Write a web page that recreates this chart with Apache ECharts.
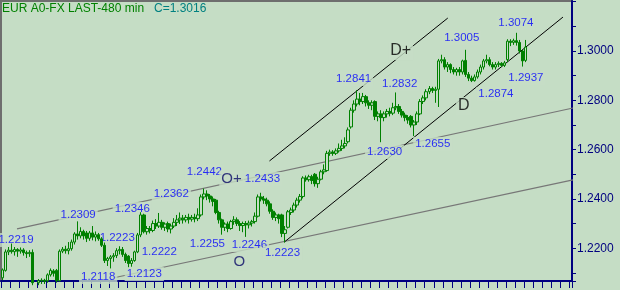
<!DOCTYPE html>
<html><head><meta charset="utf-8">
<script src="https://cdn.jsdelivr.net/npm/echarts@6/dist/echarts.min.js"></script>
<style>html,body{margin:0;padding:0;background:#c5ddc5}#c{width:620px;height:290px}</style>
</head><body><div id="c"></div>
<script>
// ---- data (EUR A0-FX, 480 min bars) ----
const opens = [1.2080,1.2110,1.2185,1.2192,1.2186,1.2195,1.2188,1.2193,1.2182,1.2178,
1.2183,1.2060,1.2060,1.2068,1.2070,1.2068,1.2092,1.2108,1.2110,1.2068,
1.2188,1.2196,1.2190,1.2198,1.2225,1.2258,1.2250,1.2268,1.2262,1.2240,
1.2262,1.2245,1.2255,1.2238,1.2212,1.2150,1.2158,1.2165,1.2170,1.2190,
1.2195,1.2175,1.2168,1.2138,1.2150,1.2185,1.2254,1.2335,1.2267,1.2280,
1.2272,1.2300,1.2290,1.2305,1.2285,1.2300,1.2278,1.2290,1.2305,1.2315,
1.2322,1.2315,1.2325,1.2318,1.2325,1.2320,1.2335,1.2408,1.2420,1.2412,
1.2400,1.2395,1.2345,1.2315,1.2285,1.2298,1.2280,1.2308,1.2315,1.2300,
1.2292,1.2300,1.2295,1.2302,1.2308,1.2330,1.2408,1.2400,1.2395,1.2380,
1.2350,1.2325,1.2335,1.2335,1.2260,1.2285,1.2345,1.2355,1.2375,1.2395,
1.2410,1.2485,1.2478,1.2490,1.2500,1.2462,1.2480,1.2510,1.2515,1.2585,
1.2590,1.2585,1.2595,1.2605,1.2615,1.2632,1.2692,1.2760,1.2785,1.2805,
1.2795,1.2815,1.2790,1.2780,1.2795,1.2735,1.2745,1.2730,1.2745,1.2755,
1.2748,1.2770,1.2775,1.2755,1.2740,1.2730,1.2735,1.2700,1.2712,1.2745,
1.2795,1.2810,1.2835,1.2848,1.2840,1.2845,1.2960,1.2965,1.2935,1.2945,
1.2925,1.2915,1.2925,1.2915,1.2962,1.2905,1.2890,1.2880,1.2895,1.2915,
1.2935,1.2960,1.2965,1.2945,1.2935,1.2945,1.2950,1.2942,1.2965,1.3040,
1.3035,1.3042,1.3035,1.3000,1.2962];
const closes = [1.2112,1.2185,1.2192,1.2186,1.2195,1.2188,1.2193,1.2182,1.2178,1.2183,
1.2060,1.2055,1.2068,1.2070,1.2065,1.2092,1.2110,1.2098,1.2068,1.2188,
1.2196,1.2190,1.2198,1.2225,1.2258,1.2250,1.2268,1.2250,1.2240,1.2262,
1.2245,1.2255,1.2238,1.2212,1.2150,1.2158,1.2165,1.2170,1.2190,1.2195,
1.2175,1.2150,1.2138,1.2150,1.2185,1.2254,1.2335,1.2267,1.2280,1.2272,
1.2300,1.2290,1.2305,1.2285,1.2298,1.2278,1.2290,1.2305,1.2315,1.2322,
1.2315,1.2325,1.2318,1.2325,1.2320,1.2335,1.2408,1.2420,1.2412,1.2400,
1.2390,1.2345,1.2315,1.2285,1.2298,1.2280,1.2308,1.2315,1.2300,1.2292,
1.2300,1.2295,1.2302,1.2308,1.2330,1.2408,1.2400,1.2395,1.2380,1.2350,
1.2325,1.2335,1.2320,1.2260,1.2275,1.2348,1.2355,1.2375,1.2395,1.2410,
1.2485,1.2478,1.2490,1.2475,1.2462,1.2480,1.2510,1.2518,1.2585,1.2590,
1.2585,1.2595,1.2605,1.2615,1.2625,1.2680,1.2760,1.2785,1.2805,1.2795,
1.2815,1.2790,1.2780,1.2790,1.2735,1.2745,1.2730,1.2745,1.2755,1.2748,
1.2770,1.2775,1.2755,1.2740,1.2730,1.2720,1.2700,1.2712,1.2745,1.2795,
1.2810,1.2835,1.2848,1.2840,1.2845,1.2960,1.2965,1.2935,1.2945,1.2925,
1.2915,1.2925,1.2915,1.2960,1.2905,1.2890,1.2880,1.2895,1.2915,1.2935,
1.2960,1.2965,1.2945,1.2935,1.2945,1.2950,1.2942,1.2952,1.3040,1.3035,
1.3042,1.3035,1.3000,1.2960,1.3016];
const lows = [1.2070,1.2105,1.2172,1.2178,1.2170,1.2165,1.2178,1.2170,1.2160,1.2165,
1.2050,1.2040,1.2050,1.2055,1.2055,1.2060,1.2085,1.2085,1.2060,1.2065,
1.2180,1.2178,1.2175,1.2190,1.2215,1.2235,1.2240,1.2235,1.2225,1.2230,
1.2232,1.2228,1.2230,1.2205,1.2140,1.2128,1.2118,1.2145,1.2160,1.2175,
1.2165,1.2140,1.2123,1.2125,1.2145,1.2180,1.2245,1.2260,1.2255,1.2260,
1.2265,1.2278,1.2282,1.2275,1.2270,1.2265,1.2260,1.2282,1.2290,1.2298,
1.2300,1.2305,1.2300,1.2308,1.2305,1.2310,1.2328,1.2398,1.2395,1.2385,
1.2370,1.2338,1.2300,1.2255,1.2270,1.2265,1.2275,1.2295,1.2290,1.2270,
1.2265,1.2246,1.2280,1.2288,1.2300,1.2325,1.2390,1.2380,1.2370,1.2340,
1.2315,1.2310,1.2300,1.2245,1.2223,1.2280,1.2335,1.2345,1.2365,1.2385,
1.2402,1.2470,1.2470,1.2460,1.2450,1.2445,1.2475,1.2500,1.2510,1.2575,
1.2575,1.2578,1.2588,1.2595,1.2605,1.2625,1.2685,1.2750,1.2775,1.2780,
1.2785,1.2775,1.2765,1.2760,1.2720,1.2715,1.2630,1.2715,1.2730,1.2735,
1.2740,1.2760,1.2745,1.2730,1.2715,1.2705,1.2690,1.2655,1.2700,1.2740,
1.2785,1.2800,1.2825,1.2830,1.2790,1.2773,1.2950,1.2925,1.2915,1.2910,
1.2905,1.2900,1.2900,1.2905,1.2895,1.2878,1.2874,1.2876,1.2888,1.2905,
1.2925,1.2950,1.2938,1.2925,1.2925,1.2935,1.2935,1.2935,1.2955,1.3020,
1.3025,1.3022,1.2990,1.2937,1.2955];
const highs = [1.2118,1.2195,1.2205,1.2219,1.2205,1.2200,1.2203,1.2200,1.2190,1.2192,
1.2195,1.2066,1.2075,1.2078,1.2076,1.2098,1.2118,1.2115,1.2116,1.2195,
1.2205,1.2210,1.2225,1.2235,1.2265,1.2309,1.2285,1.2275,1.2270,1.2270,
1.2290,1.2268,1.2262,1.2245,1.2223,1.2165,1.2172,1.2180,1.2200,1.2208,
1.2205,1.2182,1.2172,1.2160,1.2190,1.2262,1.2346,1.2340,1.2290,1.2290,
1.2312,1.2318,1.2343,1.2315,1.2305,1.2308,1.2300,1.2322,1.2335,1.2345,
1.2335,1.2335,1.2340,1.2335,1.2340,1.2362,1.2418,1.2442,1.2435,1.2420,
1.2410,1.2400,1.2352,1.2320,1.2305,1.2308,1.2315,1.2330,1.2325,1.2310,
1.2308,1.2310,1.2312,1.2315,1.2345,1.2418,1.2425,1.2412,1.2405,1.2390,
1.2358,1.2345,1.2340,1.2340,1.2290,1.2355,1.2365,1.2385,1.2405,1.2420,
1.2492,1.2495,1.2498,1.2498,1.2505,1.2490,1.2518,1.2540,1.2595,1.2600,
1.2598,1.2605,1.2625,1.2640,1.2650,1.2690,1.2770,1.2800,1.2841,1.2830,
1.2830,1.2822,1.2800,1.2800,1.2800,1.2755,1.2760,1.2755,1.2765,1.2770,
1.2790,1.2832,1.2785,1.2765,1.2750,1.2740,1.2740,1.2720,1.2755,1.2805,
1.2820,1.2845,1.2858,1.2855,1.2855,1.2968,1.2985,1.2975,1.2955,1.2950,
1.2935,1.2932,1.2935,1.2965,1.3005,1.2915,1.2900,1.2905,1.2925,1.2945,
1.2968,1.2985,1.2975,1.2955,1.2955,1.2958,1.2955,1.2960,1.3048,1.3048,
1.3050,1.3074,1.3045,1.3005,1.3045];
const categoryCount = 190;

// y-axis labelled values
const yLabelValues = [1.22,1.24,1.26,1.28,1.30];

// annotations (text, bar index, price)
const annoText = ['1.2219','1.2309','1.2346','1.2362','1.2442','O+','1.2433','1.2223','1.2222','1.2118','1.2123','1.2255','1.2246','O','1.2223','1.2630','1.2655','1.2841','1.2832','1.3005','1.3074','1.2937','1.2874','D+','D'];
const annoIdx  = [4.5,25.17,43.17,56.17,67.17,76.2,86.5,38.17,52.17,31.83,47.17,68.17,82.17,78.83,93.17,127.17,143.17,116.83,132.17,152.83,170.83,174.17,164.17,132.5,153.5];
const annoVal  = [1.22337,1.23351,1.23594,1.24202,1.25094,1.24811,1.24811,1.22418,1.21851,1.20837,1.20959,1.22175,1.22135,1.21445,1.21810,1.25905,1.26229,1.28865,1.28662,1.30527,1.31135,1.28905,1.28257,1.3000,1.27770];

// trend lines: [[barIndex, price], [barIndex, price]]
const lineDUpper = [[88.83,1.25540],[148.17,1.31338]];
const lineDLower = [[93.83,1.22256],[186.5,1.31378]];
const lineOUpper = [[4.83,1.22783],[189.83,1.27689]];
const lineOLower = [[37.5,1.20813],[189.83,1.24770]];

// ---- chart ----
const BG = '#c5ddc5', GREEN = '#008000', NAVY = '#000080';
const FONT = '"Liberation Sans", Arial, sans-serif';
const cats = Array.from({length: categoryCount}, (_, i) => String(i));
const ohlc = opens.map((o, i) => [o, closes[i], lows[i], highs[i]]);
const lastClose = closes[closes.length - 1];

function annoStyle(t) {
  if (t === 'D+' || t === 'D') return {fontSize: 16, color: '#000000'};
  if (t === 'O+' || t === 'O') return {fontSize: 15, color: '#0a0a66'};
  return {fontSize: 11.5, color: '#0000ff'};
}
const annoData = annoText.map((t, i) => {
  const s = annoStyle(t);
  return {value: [annoIdx[i], annoVal[i]], name: t,
    label: {show: true, position: 'inside', formatter: t, fontSize: s.fontSize, color: s.color,
      fontFamily: FONT, backgroundColor: BG, padding: [1, 2]}};
});
function trend(data, color, width) {
  return {type: 'line', xAxisIndex: 1, yAxisIndex: 0, data: data, symbol: 'none', silent: true,
    lineStyle: {color: color, width: width}, z: 1};
}
function isLabelled(v) {
  return yLabelValues.some(l => Math.abs(l - v) < 1e-6);
}

const chart = echarts.init(document.getElementById('c'), null, {renderer: 'canvas'});
chart.setOption({
  animation: false,
  backgroundColor: BG,
  title: [
    {text: 'EUR A0-FX LAST-480 min', left: 2, top: 3, padding: 0,
      textStyle: {fontSize: 12, fontWeight: 'normal', color: GREEN, fontFamily: FONT}},
    {text: 'C=' + lastClose.toFixed(4), left: 154, top: 3, padding: 0,
      textStyle: {fontSize: 12, fontWeight: 'normal', color: '#008080', fontFamily: FONT}}
  ],
  grid: {left: 1, top: 1, right: 48, bottom: 9, show: true, borderColor: '#6e6e6e', borderWidth: 2, backgroundColor: 'transparent'},
  xAxis: [
    {type: 'category', data: cats, boundaryGap: true,
      axisLine: {show: true, onZero: false, lineStyle: {color: NAVY, width: 2}},
      axisTick: {show: true, interval: 2, length: 7, lineStyle: {color: NAVY, width: 1}},
      axisLabel: {show: false}, splitLine: {show: false}},
    {type: 'value', min: -0.5, max: categoryCount - 0.5, show: false,
      axisLine: {onZero: false}}
  ],
  yAxis: [{type: 'value', position: 'right', min: 1.2067, max: 1.3203, splitNumber: 5,
    axisLine: {show: true, onZero: false, lineStyle: {color: NAVY, width: 2}},
    axisTick: {show: true, length: 4, lineStyle: {color: NAVY, width: 1}},
    minorTick: {show: true, splitNumber: 2, length: 4, lineStyle: {color: NAVY, width: 1}},
    axisLabel: {show: true, showMinLabel: false, showMaxLabel: false,
      formatter: v => isLabelled(v) ? v.toFixed(4) : '', color: NAVY,
      fontSize: 12, fontFamily: FONT, margin: 5},
    splitLine: {show: false}, minorSplitLine: {show: false}}],
  series: [
    trend(lineOUpper, '#777777', 1.2),
    trend(lineOLower, '#777777', 1.2),
    trend(lineDUpper, '#000000', 1),
    trend(lineDLower, '#000000', 1),
    {type: 'scatter', xAxisIndex: 1, yAxisIndex: 0, data: annoData, symbolSize: 1,
      itemStyle: {color: 'rgba(0,0,0,0)'}, silent: true, z: 2, labelLayout: {hideOverlap: false}},
    {type: 'candlestick', xAxisIndex: 0, yAxisIndex: 0, data: ohlc, barWidth: 3, z: 3,
      itemStyle: {color: BG, color0: GREEN, borderColor: GREEN, borderColor0: GREEN, borderWidth: 1}}
  ]
});
</script></body></html>
